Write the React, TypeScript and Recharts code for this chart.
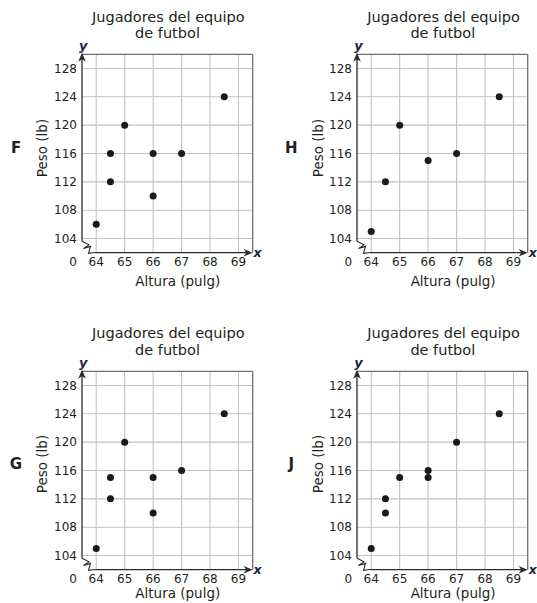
import React from 'react'
import { ScatterChart, Scatter, XAxis, YAxis, CartesianGrid, ReferenceLine } from 'recharts'

// axis ticks and grid values
const heightTicks = [64, 65, 66, 67, 68, 69]
const weightTicks = [104, 108, 112, 116, 120, 124, 128]
const heightGrid = [64, 64.5, 65, 65.5, 66, 66.5, 67, 67.5, 68, 68.5, 69]
const weightGrid = [104, 106, 108, 110, 112, 114, 116, 118, 120, 122, 124, 126, 128]

// F
const fHeights = [64, 64.5, 64.5, 65, 66, 66, 67, 68.5]
const fWeights = [106, 116, 112, 120, 116, 110, 116, 124]
// H
const hHeights = [64, 64.5, 65, 66, 67, 68.5]
const hWeights = [105, 112, 120, 115, 116, 124]
// G
const gHeights = [64, 64.5, 64.5, 65, 66, 66, 67, 68.5]
const gWeights = [105, 115, 112, 120, 115, 110, 116, 124]
// J
const jHeights = [64, 64.5, 64.5, 65, 66, 66, 67, 68.5]
const jWeights = [105, 112, 110, 115, 116, 115, 120, 124]

const FONT = '"DejaVu Sans", Verdana, sans-serif'
const INK = '#231f20'
const AXIS = '#2b2b2b'

function Txt({ x, y, children, style }: any) {
  return (
    <div
      style={{
        position: 'absolute',
        left: x,
        top: y,
        transform: 'translate(-50%, -50%)',
        whiteSpace: 'nowrap',
        lineHeight: 1,
        color: INK,
        ...style,
      }}
    >
      {children}
    </div>
  )
}

// vertical axis with arrow at top and the break mark at the bottom
const YAxisShape = (props: any) => {
  const { x1, y1, x2, y2 } = props
  const tipY = y2 - 1.6
  return (
    <g>
      <line x1={x1} y1={y1} x2={x2} y2={tipY + 6} stroke={AXIS} strokeWidth={1.3} />
      <path
        d={`M${x2},${tipY} L${x2 - 3.8},${tipY + 9} L${x2},${tipY + 6.5} L${x2 + 3.8},${tipY + 9} Z`}
        fill={AXIS}
      />
      <path
        d={`M${x1},${y1} L${x1 + 7},${y1 + 3.5} L${x1 + 1.5},${y1 + 7} L${x1 + 8.5},${y1 + 5} L${x1 + 6.5},${y1 + 12} L${x1 + 13},${y1 + 11.2}`}
        fill="none"
        stroke={AXIS}
        strokeWidth={1.1}
        strokeLinejoin="miter"
      />
    </g>
  )
}

const XAxisShape = (props: any) => {
  const { x1, y1, x2, y2 } = props
  return (
    <g>
      <line x1={x1} y1={y1} x2={x2 - 6} y2={y2} stroke={AXIS} strokeWidth={1.3} />
      <path
        d={`M${x2},${y2} L${x2 - 9},${y2 - 3.8} L${x2 - 6.5},${y2} L${x2 - 9},${y2 + 3.8} Z`}
        fill={AXIS}
      />
    </g>
  )
}

const Dot = (props: any) => <circle cx={props.cx} cy={props.cy} r={3.5} fill="#1a1a1a" />

function Panel({ letter, heights, weights, left, top, xLabelY = 281.7 }: any) {
  const data = heights.map((h: number, i: number) => ({ h, w: weights[i] }))
  const tick = { fontSize: 12, fill: INK, fontFamily: FONT }
  return (
    <div style={{ position: 'absolute', left, top, width: 270, height: 292 }}>
      <ScatterChart width={270} height={292} margin={{ top: 54.3, right: 17.3, bottom: 19.3, left: 42 }}>
        <CartesianGrid stroke="#c2c2c2" strokeWidth={1.1} horizontalValues={weightGrid} verticalValues={heightGrid} />
        <XAxis
          type="number"
          dataKey="h"
          domain={[63.5, 69.5]}
          ticks={heightTicks}
          height={20}
          axisLine={false}
          tickLine={false}
          tickSize={0}
          tickMargin={5}
          tick={tick}
          allowDataOverflow
        />
        <YAxis
          type="number"
          dataKey="w"
          domain={[102, 130]}
          ticks={weightTicks}
          width={40}
          axisLine={false}
          tickLine={false}
          tickSize={0}
          tickMargin={5}
          tick={tick}
          allowDataOverflow
        />
        <ReferenceLine y={130} stroke="#6f6f6f" strokeWidth={1.3} ifOverflow="visible" />
        <ReferenceLine x={69.5} stroke="#6f6f6f" strokeWidth={1.3} ifOverflow="visible" />
        <ReferenceLine
          segment={[{ x: 63.5, y: 103.6 }, { x: 63.5, y: 130 }]}
          ifOverflow="visible"
          shape={YAxisShape}
        />
        <ReferenceLine
          segment={[{ x: 63.96, y: 102 }, { x: 69.5, y: 102 }]}
          ifOverflow="visible"
          shape={XAxisShape}
        />
        <Scatter data={data} shape={Dot} isAnimationActive={false} />
      </ScatterChart>
      <Txt x={168.3} y={16.7} style={{ fontSize: 14.5 }}>Jugadores del equipo</Txt>
      <Txt x={167.5} y={33.3} style={{ fontSize: 14.5 }}>de futbol</Txt>
      <Txt x={16} y={147.7} style={{ fontSize: 15, fontWeight: 'bold' }}>{letter}</Txt>
      <Txt x={43.3} y={147.7} style={{ fontSize: 13.5, transform: 'translate(-50%, -50%) rotate(-90deg)' }}>
        Peso (lb)
      </Txt>
      <Txt x={177.8} y={xLabelY} style={{ fontSize: 13.5 }}>Altura (pulg)</Txt>
      <Txt x={73} y={262} style={{ fontSize: 12 }}>0</Txt>
      <Txt x={83.3} y={45} style={{ fontSize: 13, fontWeight: 'bold', fontStyle: 'italic', color: '#1c2545' }}>y</Txt>
      <Txt x={257.5} y={253.3} style={{ fontSize: 12.5, fontWeight: 'bold', fontStyle: 'italic', color: '#1c2545' }}>x</Txt>
    </div>
  )
}

export default function App() {
  return (
    <div
      style={{
        position: 'absolute',
        left: 0,
        top: 0,
        width: 537,
        height: 603,
        overflow: 'hidden',
        background: '#fff',
        fontFamily: FONT,
      }}
    >
      <Panel letter="F" heights={fHeights} weights={fWeights} left={0} top={0} />
      <Panel letter="H" heights={hHeights} weights={hWeights} left={275.3} top={0} />
      <Panel letter="G" heights={gHeights} weights={gWeights} left={0} top={316.7} xLabelY={277.5} />
      <Panel letter="J" heights={jHeights} weights={jWeights} left={275.3} top={316.7} xLabelY={277.5} />
    </div>
  )
}
